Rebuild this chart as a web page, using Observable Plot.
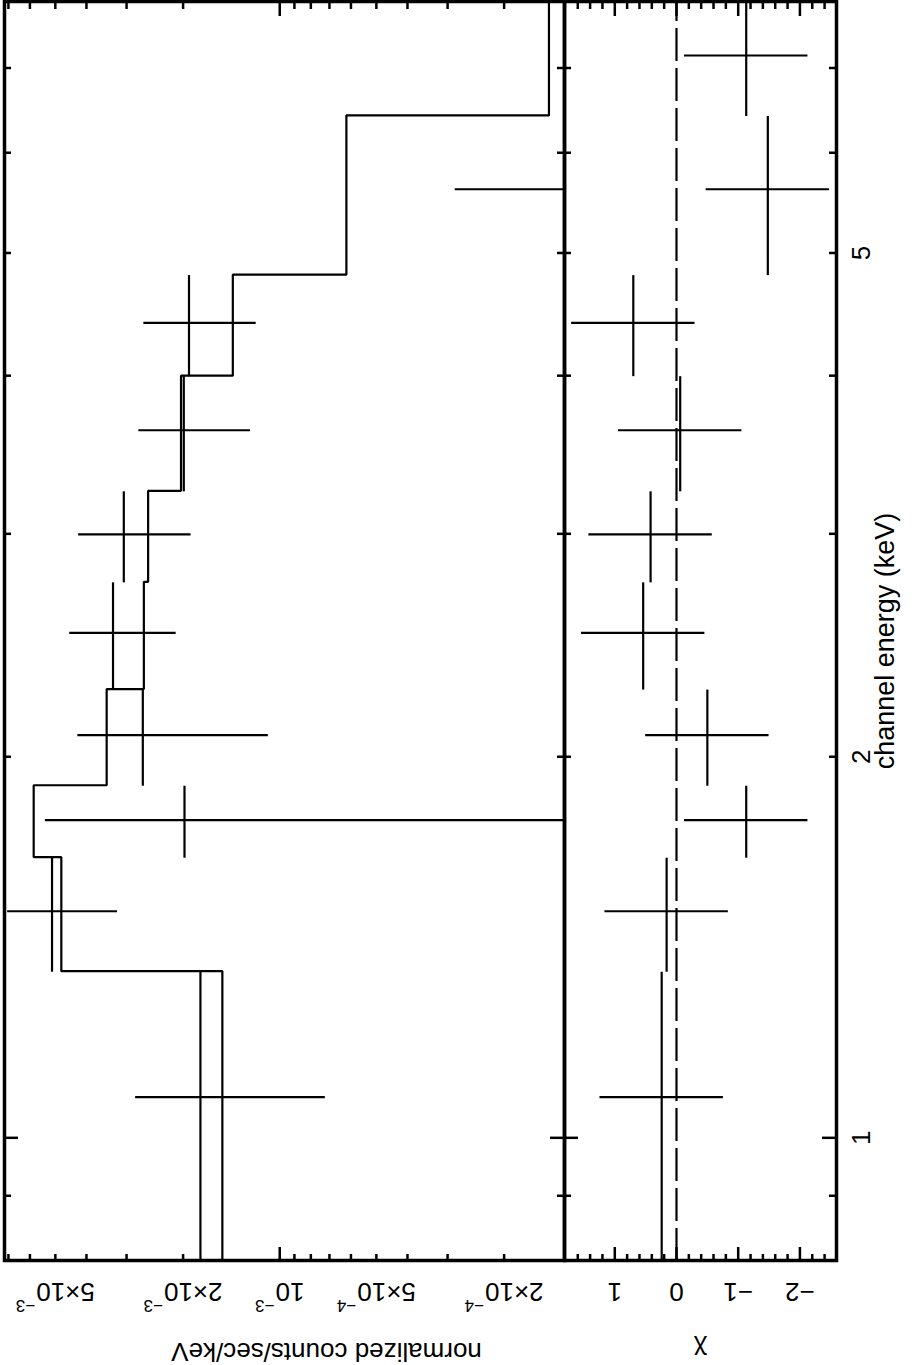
<!DOCTYPE html>
<html><head><meta charset="utf-8">
<script src="https://cdn.jsdelivr.net/npm/d3@7"></script>
<script src="https://cdn.jsdelivr.net/npm/@observablehq/plot@0.6"></script>
<style>
html,body{margin:0;padding:0;background:#fff;overflow:hidden;width:917px;height:1365px}
#rot{position:absolute;left:0;top:0;width:1365px;height:917px;transform-origin:0 0;transform:translate(0,1365px) rotate(-90deg);background:#fff}
#rot svg{display:block;overflow:visible;max-width:none}
</style></head><body><div id="rot"></div>
<script>
// ---- data ----
const energyLo = [0.80, 1.354, 1.666, 1.899, 2.262, 2.749, 3.244, 4.0, 4.807, 6.422];
const energyHi = [1.354, 1.666, 1.899, 2.262, 2.749, 3.244, 4.0, 4.807, 6.422, 7.90];
const rate     = [1.766e-3, 5.12e-3, 1.98e-3, 2.67e-3, 3.306e-3, 3.06e-3, 1.99e-3, 1.917e-3, -4.16e-4, -8.1e-5];
const rateErr  = [1.045e-3, 1.92e-3, 3.39e-3, 1.585e-3, 1.204e-3, 1.171e-3, 0.757e-3, 0.733e-3, 7.0e-4, 2.0e-4];
const model    = [1.509e-3, 4.79e-3, 5.84e-3, 3.46e-3, 2.65e-3, 2.57e-3, 2.03e-3, 1.40e-3, 6.2e-4, 1.45e-4];
const chi      = [0.24, 0.16, -1.13, -0.50, 0.54, 0.42, -0.06, 0.70, -1.48, -1.13];

const energyDomain = [0.80, 7.90];
const countDomain = [1.297e-4, 7.2e-3];
const chiDomain = [-2.593, 1.815];

const energyMajorTicks = [1];
const energyMinorTicks = [0.9, 2, 3, 4, 5, 6, 7];
const energyLabelValues = [1, 2, 5];
const energyTickLabels = ["1", "2", "5"];

const countMajorTicks = [1e-3];
const countMinorTicks = [2e-4, 3e-4, 4e-4, 5e-4, 6e-4, 7e-4, 8e-4, 9e-4, 2e-3, 3e-3, 4e-3, 5e-3, 6e-3, 7e-3];
const countLabelValues = [2e-4, 5e-4, 1e-3, 2e-3, 5e-3];
const countTickMantissa = ["2×10", "5×10", "10", "2×10", "5×10"];
const countTickExponent = ["−4", "−4", "−3", "−3", "−3"];

const chiMajorTicks = [-2, -1, 0, 1];
const chiMinorTicks = [-2.4, -2.2, -1.8, -1.6, -1.4, -1.2, -0.8, -0.6, -0.4, -0.2, 0.2, 0.4, 0.6, 0.8, 1.2, 1.4, 1.6];
const chiLabelValues = [-2, -1, 0, 1];
const chiTickLabels = ["−2", "−1", "0", "1"];

const xLabel = "channel energy (keV)";
const yLabelTop = "normalized counts/sec/keV";
const yLabelBottom = "χ";

// ---- build tables ----
const bins = energyLo.map((lo, i) => ({
  lo, hi: energyHi[i], mid: (lo + energyHi[i]) / 2,
  rate: rate[i], err: rateErr[i], model: model[i], chi: chi[i]
}));
const steps = bins.flatMap(b => [{e: b.lo, m: b.model}, {e: b.hi, m: b.model}]);

// ---- layout ----
const W = 1365, mL = 104, mR = 2;
const frameW = W - mL - mR;
const topH = 564, topMT = 4, topFrameH = topH - topMT;
const botH = 353, botMB = 81, botFrameH = botH - botMB;
const font = "Liberation Sans, Arial, DejaVu Sans, sans-serif";
const FS = 26, LW = 2.2, TW = 2.5;
const MAJ = 14, MIN = 7;

function xTicks(vals, len, fh) {
  return [
    Plot.tickX(vals, {x: d => d, insetBottom: fh - len, strokeWidth: TW}),
    Plot.tickX(vals, {x: d => d, insetTop: fh - len, strokeWidth: TW})
  ];
}
function yTicks(vals, len) {
  return [
    Plot.tickY(vals, {y: d => d, insetRight: frameW - len, strokeWidth: TW}),
    Plot.tickY(vals, {y: d => d, insetLeft: frameW - len, strokeWidth: TW})
  ];
}

const topPlot = Plot.plot({
  width: W, height: topH, marginLeft: mL, marginRight: mR, marginTop: topMT, marginBottom: 0,
  x: {type: "log", domain: energyDomain, axis: null},
  y: {type: "log", domain: countDomain, axis: null},
  style: {fontFamily: font, background: "white", color: "black", overflow: "visible"},
  marks: [
    Plot.line(steps, {x: "e", y: "m", stroke: "black", strokeWidth: LW, clip: true, strokeLinejoin: "miter", strokeLinecap: "butt"}),
    Plot.ruleY(bins.filter(d => d.rate > 0), {y: "rate", x1: "lo", x2: "hi", stroke: "black", strokeWidth: LW, clip: true}),
    Plot.ruleX(bins.filter(d => d.rate + d.err > 0), {x: "mid", y1: d => Math.max(d.rate - d.err, 1e-6), y2: d => d.rate + d.err, stroke: "black", strokeWidth: LW, clip: true}),
    ...xTicks(energyMinorTicks, MIN, topFrameH),
    ...xTicks(energyMajorTicks, MAJ, topFrameH),
    ...yTicks(countMinorTicks, MIN),
    ...yTicks(countMajorTicks, MAJ),
    Plot.frame({stroke: "black", strokeWidth: 3.5}),
    Plot.text(countLabelValues, {y: d => d, text: (d, i) => countTickMantissa[i] + "|" + countTickExponent[i], frameAnchor: "left", dx: -22, rotate: -90, textAnchor: "middle", lineAnchor: "bottom", fontSize: FS, fill: "black"}),
    Plot.text([yLabelTop], {text: d => d, frameAnchor: "left", dx: -82, dy: 42, rotate: -90, textAnchor: "middle", lineAnchor: "bottom", fontSize: FS, fill: "black"})
  ]
});

// turn "mantissa|exponent" labels into real superscripts
topPlot.querySelectorAll("text").forEach(t => {
  const s = t.textContent;
  if (!s.includes("|")) return;
  const [m, e] = s.split("|");
  t.textContent = "";
  const ns = "http://www.w3.org/2000/svg";
  const a = document.createElementNS(ns, "tspan");
  a.textContent = m;
  const b = document.createElementNS(ns, "tspan");
  b.textContent = e;
  b.setAttribute("font-size", "17");
  b.setAttribute("dy", "-17");
  b.setAttribute("dx", "1");
  t.appendChild(a);
  t.appendChild(b);
});

const botPlot = Plot.plot({
  width: W, height: botH, marginLeft: mL, marginRight: mR, marginTop: 0, marginBottom: botMB,
  x: {type: "log", domain: energyDomain, axis: null},
  y: {type: "linear", domain: chiDomain, axis: null},
  style: {fontFamily: font, background: "white", color: "black", overflow: "visible"},
  marks: [
    Plot.ruleY([0], {stroke: "black", strokeWidth: 2.2, strokeDasharray: "33,7"}),
    Plot.ruleY(bins, {y: "chi", x1: "lo", x2: "hi", stroke: "black", strokeWidth: LW, clip: true}),
    Plot.ruleX(bins, {x: "mid", y1: d => d.chi - 1, y2: d => d.chi + 1, stroke: "black", strokeWidth: LW, clip: true}),
    ...xTicks(energyMinorTicks, MIN, botFrameH),
    ...xTicks(energyMajorTicks, MAJ, botFrameH),
    ...yTicks(chiMinorTicks, MIN),
    ...yTicks(chiMajorTicks, MAJ),
    Plot.frame({stroke: "black", strokeWidth: 3.5}),
    Plot.text(chiLabelValues, {y: d => d, text: (d, i) => chiTickLabels[i], frameAnchor: "left", dx: -22, rotate: -90, textAnchor: "middle", lineAnchor: "bottom", fontSize: FS, fill: "black"}),
    Plot.text([yLabelBottom], {text: d => d, frameAnchor: "left", dx: -80, rotate: -90, textAnchor: "middle", lineAnchor: "bottom", fontSize: FS, fill: "black"}),
    Plot.text(energyLabelValues, {x: d => d, text: (d, i) => energyTickLabels[i], frameAnchor: "bottom", dy: 15, textAnchor: "middle", lineAnchor: "top", fontSize: FS, fill: "black"}),
    Plot.text([xLabel], {text: d => d, frameAnchor: "bottom", dx: -10, dy: 57, textAnchor: "middle", lineAnchor: "bottom", fontSize: 27, fill: "black"})
  ]
});

const host = document.getElementById("rot");
host.appendChild(topPlot);
host.appendChild(botPlot);
</script>
</body></html>
